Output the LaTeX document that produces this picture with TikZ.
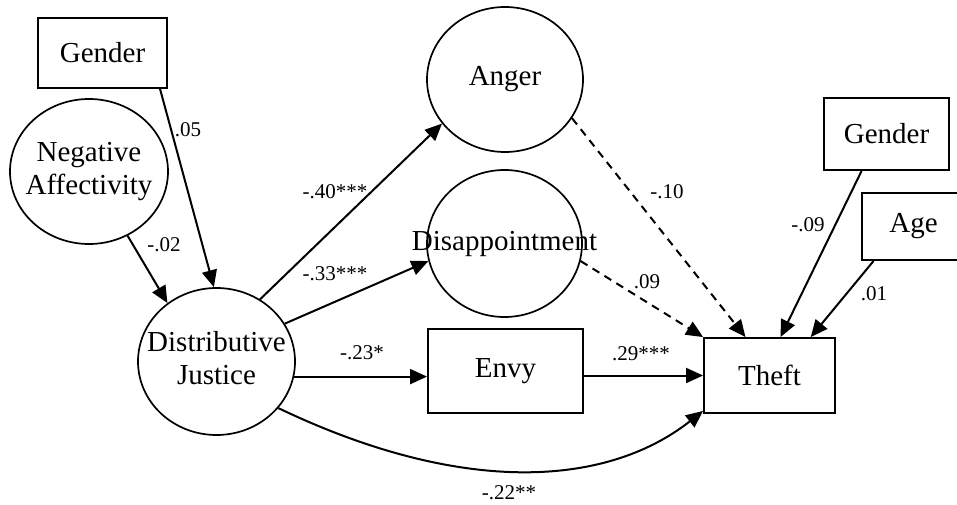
\documentclass[tikz,border=0pt]{standalone}
\usepackage{fontspec}
\setmainfont{Liberation Serif}
\usetikzlibrary{shapes.geometric,arrows.meta,calc}
\begin{document}
\begin{tikzpicture}[x=1pt,y=-1pt,
  box/.style={draw,line width=1.9pt,rectangle,inner sep=0pt,font=\fontsize{29}{33}\selectfont},
  oval/.style={draw,line width=1.7pt,ellipse,inner sep=0pt,font=\fontsize{29}{33}\selectfont},
  conn/.style={line width=2pt,-{Triangle[length=17pt,width=15pt]}},
  dsh/.style={conn,dash pattern=on 8pt off 6pt},
  lab/.style={font=\fontsize{21}{23}\selectfont,inner sep=0pt}]
\useasboundingbox (0,0) rectangle (957,505);
\fill[white] (0,0) rectangle (957,505);

% nodes
\node[box,minimum width=129pt,minimum height=70pt] (g1) at (102.5,53) {Gender};
\node[oval,minimum width=158pt,minimum height=145pt] (na) at (89,171.5)
  {\makebox[0pt]{\begin{tabular}{@{}c@{}}Negative\\Affectivity\end{tabular}}};
\node[oval,minimum width=157pt,minimum height=147pt] (dj) at (216.5,361.5)
  {\makebox[0pt]{\raisebox{-5pt}{\begin{tabular}{@{}c@{}}Distributive\\Justice\end{tabular}}}};
\node[oval,minimum width=156pt,minimum height=145pt] (anger) at (505,79.5) {\makebox[0pt]{\raisebox{3pt}{Anger}}};
\node[oval,minimum width=155pt,minimum height=147pt] (dis) at (504.5,243.5) {\makebox[0pt]{Disappointment}};
\node[box,minimum width=155pt,minimum height=84pt] (envy) at (505.5,371) {Envy};
\node[box,minimum width=131pt,minimum height=75pt] (theft) at (769.5,375.5) {Theft};
\node[box,minimum width=125pt,minimum height=72pt] (g2) at (886.5,134) {Gender};
\node[box,minimum width=97pt,minimum height=67pt] (age) at (910.5,226.5) {\hspace*{6pt}Age};

% connectors
\draw[conn] (g1.-32.7) -- (dj.92.7);
\draw[conn] (na.-59.1) -- (dj.130.2);
\draw[conn] (dj.55.8) -- (anger.215.3);
\draw[conn] (dj.29.3) -- (dis.193.4);
\draw[conn] (dj.-11) -- (dj.-11 -| envy.west);
\draw[conn] (dj.-37.1) .. controls (460,495) and (605,488) .. ($(theft.south west)+(0,-3)$);
\draw[dsh] (anger.-30.6) -- (theft.122.5);
\draw[dsh] (dis.-13.4) -- (theft.north west);
\draw[conn] (theft.west -| envy.east) -- (theft.west);
\draw[conn] (g2.-124.2) -- (theft.74.7);
\draw[conn] (age.223.3) -- (theft.43.5);

% labels
\node[lab] (l1) at (188,130) {.05};
\node[lab] (l2) at (164,245) {-.02};
\node[lab] (l3) at (335,192) {-.40***};
\node[lab] (l4) at (335,274) {-.33***};
\node[lab] (l5) at (362,353) {-.23*};
\node[lab] (l6) at (509,493) {-.22**};
\node[lab] (l7) at (667,192) {-.10};
\node[lab] (l8) at (647,282) {.09};
\node[lab] (l9) at (641,354) {.29***};
\node[lab] (l10) at (808,225) {-.09};
\node[lab] (l11) at (874,294) {.01};
\end{tikzpicture}
\end{document}
